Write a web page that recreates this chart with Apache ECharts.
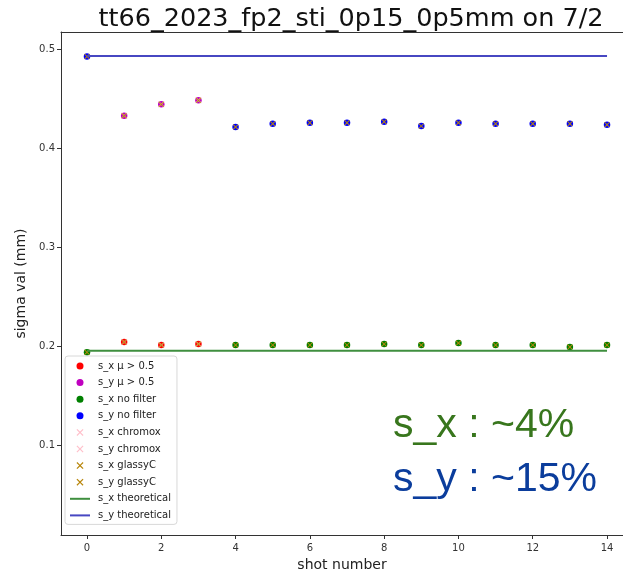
<!DOCTYPE html>
<html>
<head>
<meta charset="utf-8">
<script src="https://cdn.jsdelivr.net/npm/echarts@6/dist/echarts.min.js"></script>
<style>
html,body{margin:0;padding:0;background:#fff;}
#chart{width:623px;height:574px;}
</style>
</head>
<body>
<div id="chart"></div>
<script>
// ---- data ----
const shots = [0,1,2,3,4,5,6,7,8,9,10,11,12,13,14];
const sxValues = [0.194,0.2043,0.2013,0.2023,0.2013,0.2013,0.2013,0.2013,0.2023,0.2013,0.2033,0.2013,0.2013,0.1993,0.2013];
const syValues = [0.4925,0.4327,0.4442,0.4482,0.4213,0.4246,0.4256,0.4256,0.4266,0.4223,0.4256,0.4246,0.4246,0.4246,0.4236];
const muShots = [1,2,3];          // shots with mu > 0.5 / chromox data
const sxTheoretical = 0.1956;
const syTheoretical = 0.4929;
const xTicks = [0,2,4,6,8,10,12,14];
const yTicks = [0.1,0.2,0.3,0.4,0.5];
const titleText = 'tt66_2023_fp2_sti_0p15_0p5mm on 7/2';
const noteX = 's_x : ~4%';
const noteY = 's_y : ~15%';

const xPath = 'path://M0,1.2 L1.2,0 L5,3.8 L8.8,0 L10,1.2 L6.2,5 L10,8.8 L8.8,10 L5,6.2 L1.2,10 L0,8.8 L3.8,5 Z';
const linePath = 'path://M0,0 L20,0 L20,2 L0,2 Z';

function pick(values, keep) {
  return shots.filter(keep).map(s => [s, values[s]]);
}
const isMu = s => muShots.indexOf(s) >= 0;
const notMu = s => !isMu(s);

function scatter(name, data, color, symbol, size) {
  return {
    name: name, type: 'scatter', data: data, symbol: symbol, symbolSize: size,
    itemStyle: {color: color, opacity: 1}, silent: true, animation: false
  };
}
function hline(name, value, color) {
  return {
    name: name, type: 'line', data: shots.map(s => [s, value]), symbol: 'none',
    lineStyle: {color: color, width: 2}, itemStyle: {color: color}, animation: false, silent: true
  };
}

const series = [
  hline('s_x theoretical', sxTheoretical, '#3f8f3f'),
  hline('s_y theoretical', syTheoretical, '#4747c2'),
  scatter('s_x mu', pick(sxValues, isMu), '#ff0000', 'circle', 6.5),
  scatter('s_y mu', pick(syValues, isMu), '#bf00bf', 'circle', 6.5),
  scatter('s_x no filter', pick(sxValues, notMu), '#008000', 'circle', 6.5),
  scatter('s_y no filter', pick(syValues, notMu), '#0000ff', 'circle', 6.5),
  scatter('s_x chromox', pick(sxValues, isMu), '#ffc0cb', xPath, 6.5),
  scatter('s_y chromox', pick(syValues, isMu), '#ffc0cb', xPath, 6.5),
  scatter('s_x glassyC', pick(sxValues, () => true), '#b8860b', xPath, 5.5),
  scatter('s_y glassyC', pick(syValues, () => true), '#b8860b', xPath, 5.5)
];

const legendLabels = {'s_x mu': 's_x \u03bc > 0.5', 's_y mu': 's_y \u03bc > 0.5'};
const legendData = ['s_x mu','s_y mu','s_x no filter','s_y no filter',
  's_x chromox','s_y chromox','s_x glassyC','s_y glassyC']
  .map(n => ({name: n}))
  .concat([{name: 's_x theoretical', icon: linePath}, {name: 's_y theoretical', icon: linePath}]);

const chart = echarts.init(document.getElementById('chart'), null, {renderer: 'canvas'});
chart.setOption({
  animation: false,
  backgroundColor: '#ffffff',
  title: {
    text: titleText, left: 346, top: 1, textAlign: 'center',
    textStyle: {fontFamily: 'DejaVu Sans', fontSize: 25.5, fontWeight: 'normal', color: '#111'}
  },
  grid: {left: 61, top: 32, right: 0, height: 503, containLabel: false, outerBoundsMode: 'none'},
  xAxis: [{
    type: 'value', min: -0.7, max: 14.43,
    name: 'shot number', nameLocation: 'middle', nameGap: 22,
    nameTextStyle: {fontFamily: 'DejaVu Sans', fontSize: 14, color: '#222'},
    axisLine: {show: true, onZero: false, lineStyle: {color: '#333', width: 1}},
    axisTick: {show: true, length: 4, customValues: xTicks, lineStyle: {color: '#333'}},
    axisLabel: {customValues: xTicks, fontFamily: 'DejaVu Sans', fontSize: 10, color: '#333', margin: 8},
    splitLine: {show: false}
  }, {
    type: 'value', position: 'top', min: -0.7, max: 14.43,
    axisLine: {show: true, onZero: false, lineStyle: {color: '#333', width: 1}},
    axisTick: {show: false}, axisLabel: {show: false}, splitLine: {show: false}
  }],
  yAxis: {
    type: 'value', min: 0.0096, max: 0.5172,
    name: 'sigma val (mm)', nameLocation: 'middle', nameGap: 28, nameRotate: 90,
    nameTextStyle: {fontFamily: 'DejaVu Sans', fontSize: 14, color: '#222'},
    axisLine: {show: true, onZero: false, lineStyle: {color: '#333', width: 1}},
    axisTick: {show: true, length: 4, customValues: yTicks, lineStyle: {color: '#333'}},
    axisLabel: {customValues: yTicks, fontFamily: 'DejaVu Sans', fontSize: 10, color: '#333', margin: 6,
      formatter: v => v.toFixed(1)},
    splitLine: {show: false}
  },
  legend: {
    data: legendData,
    orient: 'vertical', left: 65, top: 356,
    itemWidth: 20, itemHeight: 7, itemGap: 6.6,
    padding: [5, 6, 4, 5],
    backgroundColor: '#fff', borderColor: '#d8d8d8', borderWidth: 1, borderRadius: 3,
    selectedMode: false,
    formatter: n => legendLabels[n] || n,
    textStyle: {fontFamily: 'DejaVu Sans', fontSize: 10, color: '#222', padding: [0,0,0,3]}
  },
  graphic: [
    {type: 'text', left: 393, top: 405, z: 100,
      style: {text: noteX, fontFamily: 'Liberation Sans', fontSize: 41, fill: '#38761d'}},
    {type: 'text', left: 393, top: 459, z: 100,
      style: {text: noteY, fontFamily: 'Liberation Sans', fontSize: 41, fill: '#0b3d9c'}}
  ],
  series: series
});
</script>
</body>
</html>
